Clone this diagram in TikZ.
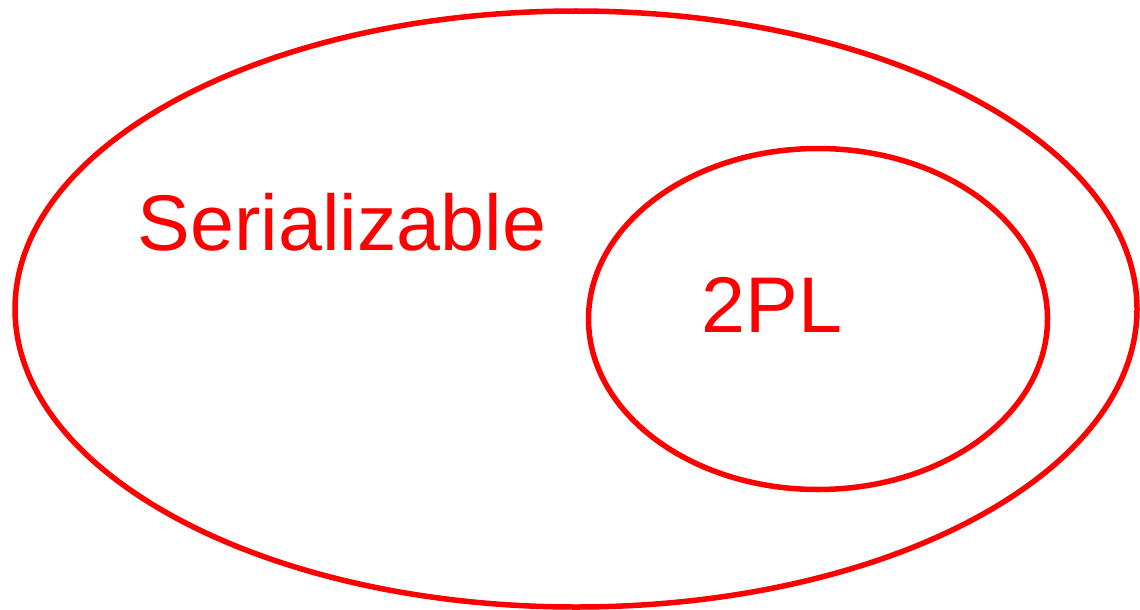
\documentclass[tikz,border=0pt]{standalone}
\usepackage{fontspec}
\setmainfont{Liberation Sans}
\begin{document}
\begin{tikzpicture}[x=1pt,y=-1pt,
  setline/.style={draw=red,line width=5.5pt},
  setlabel/.style={text=red,font=\fontsize{79}{90}\selectfont,inner sep=0pt,anchor=base}]
\useasboundingbox (0,0) rectangle (1140,610);
\draw[setline] (576,309) ellipse [x radius=561, y radius=298];
\draw[setline] (818,319) ellipse [x radius=229.5, y radius=170.5];
\node[setlabel] (ser) at (342,250) {Serializable};
\node[setlabel] (tpl) at (772,332) {2PL};
\end{tikzpicture}
\end{document}
